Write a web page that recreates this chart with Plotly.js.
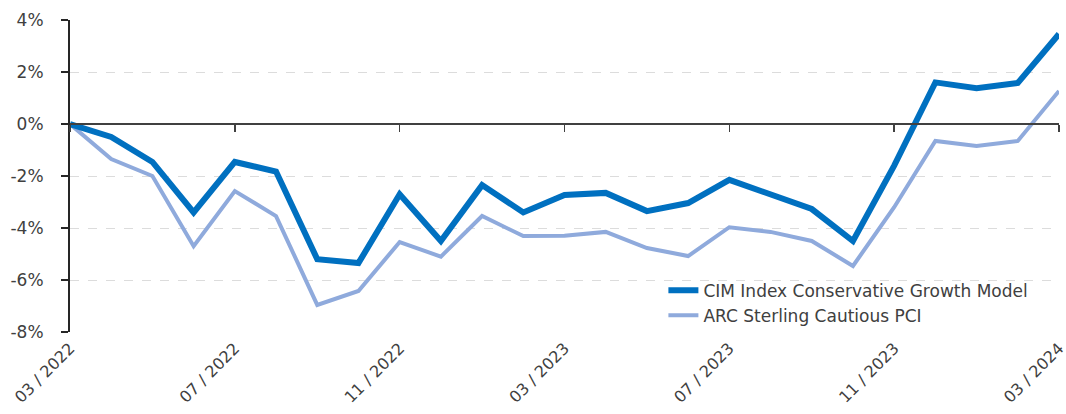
<!DOCTYPE html>
<html>
<head>
<meta charset="utf-8">
<script src="https://cdn.plot.ly/plotly-3.0.1.min.js"></script>
<style>html,body{margin:0;padding:0;background:#fff;}#chart{width:1066px;height:414px;}</style>
</head>
<body>
<div id="chart"></div>
<script>
const months = ['03 / 2022','04 / 2022','05 / 2022','06 / 2022','07 / 2022','08 / 2022','09 / 2022','10 / 2022','11 / 2022','12 / 2022','01 / 2023','02 / 2023','03 / 2023','04 / 2023','05 / 2023','06 / 2023','07 / 2023','08 / 2023','09 / 2023','10 / 2023','11 / 2023','12 / 2023','01 / 2024','02 / 2024','03 / 2024'];
const cim = [0, -0.5, -1.46, -3.4, -1.46, -1.83, -5.2, -5.35, -2.7, -4.5, -2.35, -3.4, -2.73, -2.65, -3.35, -3.04, -2.15, -2.7, -3.27, -4.5, -1.6, 1.6, 1.38, 1.58, 3.46];
const arc = [0, -1.35, -2.0, -4.7, -2.58, -3.54, -6.96, -6.42, -4.54, -5.1, -3.54, -4.31, -4.3, -4.15, -4.77, -5.08, -3.97, -4.15, -4.5, -5.46, -3.2, -0.65, -0.85, -0.65, 1.27];
const seriesNames = ['CIM Index Conservative Growth Model', 'ARC Sterling Cautious PCI'];
const xTickLabels = ['03 / 2022','07 / 2022','11 / 2022','03 / 2023','07 / 2023','11 / 2023','03 / 2024'];
const yTickVals = [-8, -6, -4, -2, 0, 2, 4];
const yTickText = ['-8%', '-6%', '-4%', '-2%', '0%', '2%', '4%'];

const font = {family: '"DejaVu Sans", "Open Sans", sans-serif', size: 17, color: '#404040'};
const xFont = {family: '"DejaVu Sans", "Open Sans", sans-serif', size: 16, color: '#404040'};

const traces = [
  {x: months, y: arc, name: seriesNames[1], type: 'scatter', mode: 'lines',
   line: {color: '#8FAADC', width: 4}, hoverinfo: 'skip'},
  {x: months, y: cim, name: seriesNames[0], type: 'scatter', mode: 'lines',
   line: {color: '#0070C0', width: 6}, hoverinfo: 'skip'},
  {x: months, y: cim, xaxis: 'x2', type: 'scatter', mode: 'lines', showlegend: false,
   line: {color: 'rgba(0,0,0,0)', width: 0}, hoverinfo: 'skip'}
];

const layout = {
  width: 1066, height: 414,
  margin: {l: 70, r: 7, t: 20, b: 82},
  paper_bgcolor: '#fff', plot_bgcolor: '#fff',
  font: font,
  showlegend: true,
  legend: {x: 0.6, y: 0.19, xanchor: 'left', yanchor: 'top', traceorder: 'reversed',
           bgcolor: 'rgba(0,0,0,0)', font: font, tracegroupgap: 0},
  xaxis: {type: 'category', range: [0, 24], tickmode: 'array', tickvals: xTickLabels, ticktext: xTickLabels,
          tickangle: -45, showgrid: false, zeroline: false, showline: false, ticks: '',
          ticklabelstandoff: 3, tickfont: xFont, fixedrange: true},
  xaxis2: {type: 'linear', overlaying: 'x', anchor: 'free', position: 8/12, range: [0, 24],
           tickmode: 'linear', tick0: 0, dtick: 4, ticks: 'outside', ticklen: 7, tickwidth: 1.5, tickcolor: '#404040',
           showticklabels: false, showgrid: false, zeroline: false, showline: true, linecolor: '#404040', linewidth: 2},
  yaxis: {range: [-8, 4], tickmode: 'array', tickvals: yTickVals, ticktext: yTickText,
          showgrid: true, gridcolor: '#dcdcdc', gridwidth: 1, griddash: 'dash',
          zeroline: false, showline: true, linecolor: '#262626', linewidth: 2,
          ticks: 'outside', ticklen: 7, tickcolor: '#262626', tickwidth: 1.5,
          ticklabelstandoff: 14, tickfont: font, fixedrange: true}
};

Plotly.newPlot('chart', traces, layout, {displayModeBar: false, staticPlot: true});
</script>
</body>
</html>
